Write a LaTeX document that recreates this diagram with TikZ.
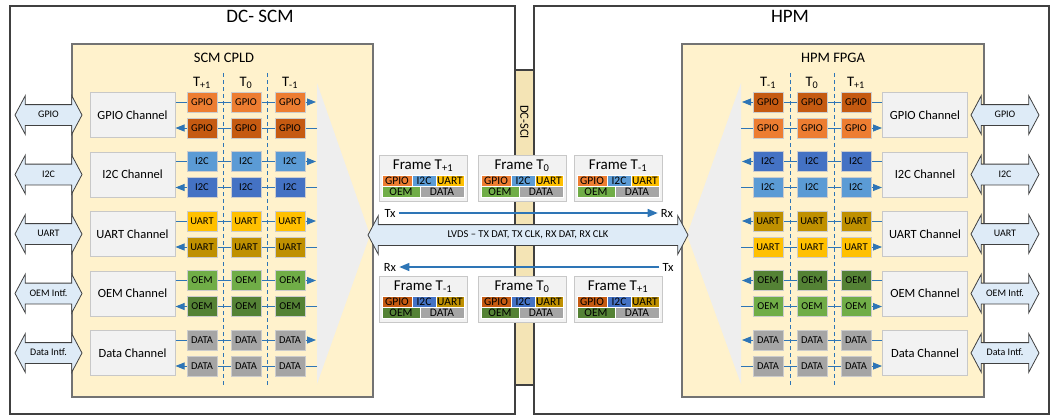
\documentclass[tikz,border=0pt]{standalone}
\usepackage{fontspec}
\setmainfont{Carlito}
\usetikzlibrary{arrows.meta,shapes.arrows}

% colours
\definecolor{boxline}{HTML}{404040}
\definecolor{chipfill}{HTML}{FFF2CC}
\definecolor{chfill}{HTML}{F2F2F2}
\definecolor{funfill}{HTML}{EEEEEE}
\definecolor{chline}{HTML}{C8C8C8}
\definecolor{linkblue}{HTML}{2E75B6}
\definecolor{ifblue}{HTML}{DEEBF7}
\definecolor{scifill}{HTML}{F4E4B5}
\definecolor{gpioA}{HTML}{ED7D31}
\definecolor{gpioB}{HTML}{C55A11}
\definecolor{iicA}{HTML}{5B9BD5}
\definecolor{iicB}{HTML}{4472C4}
\definecolor{uartA}{HTML}{FFC000}
\definecolor{uartB}{HTML}{BF9000}
\definecolor{oemA}{HTML}{70AD47}
\definecolor{oemB}{HTML}{548235}
\definecolor{dataA}{HTML}{A5A5A5}
\definecolor{dataB}{HTML}{A5A5A5}

\tikzset{
  board/.style={draw=boxline, line width=1.2pt},
  chip/.style={draw=black!55, line width=1.2pt, fill=chipfill},
  funnel/.style={fill=funfill, draw=none},
  chanbox/.style={draw=chline, line width=1pt, fill=chfill, minimum width=85pt, minimum height=45pt, font=\fontsize{12.5}{14}\selectfont},
  slot/.style={draw=black!20, line width=1pt, minimum width=30pt, minimum height=20pt, inner sep=0pt, font=\fontsize{10.5}{12}\selectfont},
  ifarrow/.style={double arrow, draw=boxline, line width=0.8pt, fill=ifblue, double arrow head extend=9pt, double arrow tip angle=124, minimum width=38pt, inner xsep=1pt, inner ysep=5.5pt, text height=7pt, text depth=2pt, font=\fontsize{10}{12}\selectfont},
  rowline/.style={draw=linkblue, line width=0.8pt},
  blutip/.style={-{Triangle[length=9pt,width=7pt]}},
  colsep/.style={draw=linkblue, line width=0.8pt, dash pattern=on 4pt off 3pt},
  tlabel/.style={anchor=base, inner sep=0pt, font=\fontsize{14.5}{16}\selectfont},
  title/.style={font=\fontsize{19}{22}\selectfont},
  subtitle/.style={font=\fontsize{14.5}{16}\selectfont},
  framebox/.style={draw=chline, line width=1pt, fill=chfill, minimum width=88pt, minimum height=46pt},
  frametitle/.style={font=\fontsize{15}{16}\selectfont, inner sep=0pt},
  cell/.style={draw=white, line width=0.5pt, minimum height=11pt, inner sep=0pt, font=\fontsize{11.5}{12}\selectfont},
  txline/.style={draw=linkblue, line width=1.4pt, -{Triangle[length=10pt,width=8pt]}},
  txrx/.style={font=\fontsize{12.5}{14}\selectfont, inner sep=3pt},
}

% one frame: name, x, y, subscript, shade (A/B)
\newcommand{\frameblk}[5]{%
  \node[framebox] (#1) at (#2,#3) {};
  \node[frametitle] (#1t) at (#2,#3-12.5) {Frame T\textsubscript{#4}};
  \node[cell, fill=gpio#5, minimum width=30pt] (#1g) at (#2-26,#3+2.5) {GPIO};
  \node[cell, fill=iic#5, minimum width=24pt] (#1i) at (#2+1,#3+2.5) {I2C};
  \node[cell, fill=uart#5, minimum width=28pt] (#1u) at (#2+27,#3+2.5) {UART};
  \node[cell, fill=oem#5, minimum width=38pt] (#1o) at (#2-22,#3+13.5) {OEM};
  \node[cell, fill=data#5, minimum width=44pt] (#1d) at (#2+19,#3+13.5) {DATA};
}

\begin{document}
\begin{tikzpicture}[x=1pt, y=-1pt]
\useasboundingbox (0,0) rectangle (1050,416);

% boards
\draw[board] (10,6) rectangle (515,414);
\draw[board] (534,6) rectangle (1049,414);
\filldraw[fill=scifill, draw=boxline, line width=1.2pt] (515,70) rectangle (534,385);
\node[rotate=-90, font=\fontsize{12.5}{14}\selectfont] (sci) at (524.5,122) {DC-SCI};

\node[title] (scm) at (260,16) {DC- SCM};
\node[title] (hpm) at (790,16) {HPM};

% CPLD and FPGA
\draw[chip] (72,44) rectangle (373,397);
\draw[chip] (682,44) rectangle (984,397);
\node[subtitle] (cpld) at (224,58) {SCM CPLD};
\node[subtitle] (fpga) at (833,58) {HPM FPGA};

\fill[funnel] (317,83) -- (370,235) -- (317,384) -- cycle;
\fill[funnel] (741,83) -- (687,235) -- (741,384) -- cycle;

% time columns
\node[tlabel] (lT1) at (202,86) {T\textsubscript{+1}};
\node[tlabel] (lT2) at (246,86) {T\textsubscript{0}};
\node[tlabel] (lT3) at (290,86) {T\textsubscript{-1}};
\node[tlabel] (rT1) at (768,86) {T\textsubscript{-1}};
\node[tlabel] (rT2) at (812,86) {T\textsubscript{0}};
\node[tlabel] (rT3) at (856,86) {T\textsubscript{+1}};
\foreach \xx in {223,267,790,834}
  \draw[colsep] (\xx,73) -- (\xx,387);

% channels
\foreach \i/\lab/\slt/\iflab/\ca/\cb in {0/GPIO/GPIO/GPIO/gpioA/gpioB, 1/I2C/I2C/I2C/iicA/iicB, 2/UART/UART/UART/uartA/uartB, 3/OEM/OEM/OEM Intf./oemA/oemB, 4/Data/DATA/Data Intf./dataA/dataB} {
  \pgfmathsetmacro{\cy}{115+59.5*\i}
  % SCM side
  \node[chanbox] (lch\i) at (132.5,\cy) {\lab\ Channel};
  \foreach \k/\xx in {1/202,2/246,3/290} {
    \node[slot, fill=\ca] (lt\i\k) at (\xx,\cy-13) {\slt};
    \node[slot, fill=\cb] (lb\i\k) at (\xx,\cy+13) {\slt};
  }
  \coordinate (lte\i) at (316,\cy-13);
  \coordinate (lbe\i) at (317,\cy+13);
  \draw[rowline] (lch\i.east |- lt\i1) -- (lt\i1) -- (lt\i2) -- (lt\i3);
  \draw[rowline, blutip] (lt\i3) -- (lte\i);
  \draw[rowline] (lbe\i) -- (lb\i3) -- (lb\i2) -- (lb\i1);
  \draw[rowline, blutip] (lb\i1) -- (lch\i.east |- lb\i1);
  \node[ifarrow, minimum height=67pt] (lif\i) at (48.5,\cy) {\iflab};
  % HPM side
  \node[chanbox] (rch\i) at (925,\cy) {\lab\ Channel};
  \foreach \k/\xx in {1/768,2/812,3/856} {
    \node[slot, fill=\cb] (rt\i\k) at (\xx,\cy-13) {\slt};
    \node[slot, fill=\ca] (rb\i\k) at (\xx,\cy+13) {\slt};
  }
  \coordinate (rte\i) at (742,\cy-13);
  \coordinate (rbe\i) at (741,\cy+13);
  \draw[rowline] (rch\i.west |- rt\i3) -- (rt\i3) -- (rt\i2) -- (rt\i1);
  \draw[rowline, blutip] (rt\i1) -- (rte\i);
  \draw[rowline] (rbe\i) -- (rb\i1) -- (rb\i2) -- (rb\i3);
  \draw[rowline, blutip] (rb\i3) -- (rch\i.west |- rb\i3);
  \node[ifarrow, minimum height=68pt] (rif\i) at (1005,\cy) {\iflab};
}

% link
\node[ifarrow, minimum height=320pt, font=\fontsize{10.5}{12}\selectfont] (lvds) at (528,235) {LVDS -- TX DAT, TX CLK, RX DAT, RX CLK};

\frameblk{ftA}{423}{178}{+1}{A}
\frameblk{ftB}{522}{178}{0}{A}
\frameblk{ftC}{618}{178}{-1}{A}
\frameblk{fbA}{423}{299}{-1}{B}
\frameblk{fbB}{522}{299}{0}{B}
\frameblk{fbC}{618}{299}{+1}{B}

\node[txrx] (tx1) at (390,213) {Tx};
\node[txrx] (rx1) at (667,213) {Rx};
\node[txrx] (rx2) at (390,267) {Rx};
\node[txrx] (tx2) at (668,267) {Tx};
\draw[txline] (tx1) -- (rx1);
\draw[txline] (tx2) -- (rx2);
\end{tikzpicture}
\end{document}
